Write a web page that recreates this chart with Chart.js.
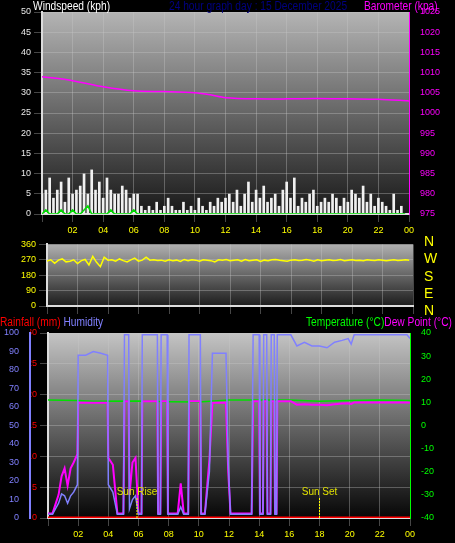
<!DOCTYPE html>
<html>
<head>
<meta charset="utf-8">
<script src="https://cdn.jsdelivr.net/npm/chart.js@4/dist/chart.umd.min.js"></script>
<style>
  body { margin: 0; background: #000; width: 455px; height: 543px; position: relative; overflow: hidden; font-family: "Liberation Sans", Arial, sans-serif; }
  canvas { position: absolute; left: 0; }
  .t { position: absolute; font-family: "Liberation Sans", sans-serif; font-size: 12px; white-space: nowrap; line-height: 12px; transform: scaleX(0.85); transform-origin: left top; }
  .dir { position: absolute; left: 424px; color: #ffff00; font-size: 14px; }
</style>
</head>
<body>
<canvas id="top" width="455" height="240" style="top:0"></canvas>
<canvas id="mid" width="455" height="82" style="top:236px"></canvas>
<canvas id="bot" width="455" height="227" style="top:316px"></canvas>
<div class="t" style="left:33px;top:0;color:#fff">Windspeed (kph)</div>
<div class="t" style="left:169px;top:0;color:#000080">24 hour graph day : 15 December 2025</div>
<div class="t" style="left:364px;top:0;color:#ff00ff">Barometer (kpa)</div>
<div class="dir" style="top:233px">N</div>
<div class="dir" style="top:250px">W</div>
<div class="dir" style="top:268px">S</div>
<div class="dir" style="top:285px">E</div>
<div class="dir" style="top:302px">N</div>
<div class="t" style="left:0;top:316px;color:#ff0000">Rainfall (mm) <span style="color:#8080ff">Humidity</span></div>
<div class="t" style="left:306px;top:316px;color:#00ff00">Temperature (°C)<span style="color:#ff00ff">Dew Point (°C)</span></div>
<script>
// wind, every 15 minutes
const windGust = [5,6,9,4,6,8,3,9,5,6,7,10,5,11,6,8,4,9,6,5,5,7,6,4,5,5,
  2,1,2,1,3,1,2,4,2,1,1,3,1,2,1,4,2,1,3,2,4,3,
  4,5,3,6,2,5,8,3,6,4,7,3,4,5,2,6,8,4,9,2,4,3,5,6,2,3,4,3,5,4,2,4,3,6,5,4,7,3,5,2,4,3,2,1,5,1,2,0];
const windAvg = [0,1,0,0,0,1,0,0,1,0,0,1,2,0,0,0,0,0,1,0,0,0,0,0,1,0,
  0,0,0,0,0,0,0,0,0,0,0,0,0,0,0,0,0,0,0,0,0,0,
  0,0,0,0,0,0,0,0,0,0,0,0,0,0,0,0,0,0,0,0,0,0,0,0,0,0,0,0,0,0,0,0,0,0,0,0,0,0,0,0,0,0,0,0,0,0,0,0];
const windDir = [262,270,250,268,275,258,262,270,248,265,272,240,290,255,230,285,268,270,262,275,
  265,258,270,280,262,268,285,268,270,266,268,262,270,265,268,260,272,265,270,268,
  262,270,268,265,258,270,268,272,265,268,270,262,272,265,268,270,260,268,265,270,
  272,268,265,262,268,270,266,268,272,268,262,270,265,268,270,266,268,272,265,268,
  270,266,268,265,270,268,266,270,268,265,268,270,266,268,270,268];
const baroHours = [0,2,4,6,8,10,11,12,14,16,18,20,22,24];
const baro = [1009,1008,1006.5,1005.5,1005.3,1005,1004.5,1003.8,1003.5,1003.5,1003.6,1003.5,1003.4,1003];

const humHours = [0,0.3,0.5,0.7,0.9,1.1,1.3,1.5,1.7,1.95,2.0,2.5,3.0,3.5,3.95,4.0,4.3,4.6,5.0,5.07,5.35,5.4,5.6,5.8,6.0,6.2,6.25,7.25,7.3,7.45,7.5,7.9,7.95,8.6,8.8,9.0,9.3,9.35,10.1,10.15,10.4,10.7,10.9,11.8,11.95,12.1,13.5,13.6,14.0,14.05,14.25,14.3,14.5,14.55,14.75,14.8,15.0,15.05,15.15,15.2,16.1,16.5,17.0,17.5,18.0,18.5,19.0,19.5,19.9,20.1,20.3,22,23.8,24];
const humidity = [2,2,5,8,13,12,8,12,14,18,88,88,90,89,88,18,14,2,2,99,99,5,10,12,2,2,99,99,2,2,99,99,2,2,6,2,2,99,99,2,2,25,89,89,30,2,2,99,99,2,2,99,99,2,2,99,99,2,2,99,99,93,95,93,93,92,95,96,97,94,99,99,99,97];
const dewPoint = [-38,-38,-34,-30,-22,-18.5,-26,-18.5,-16,-12.4,9.8,9.8,9.8,9.8,9.8,-14,-17,-38,-38,10.5,10.5,-30,-16,-14,-38,-38,10.5,10.5,-38,-38,10.5,10.5,-38,-38,-25,-38,-38,10.5,10.5,-38,-38,-15,9.8,9.8,-20,-38,-38,10.5,10.5,-38,-38,10.5,10.5,-38,-38,10.5,10.5,-38,-38,10.5,10.5,9,9.2,9,9,8.8,9.2,9.5,9.6,9.3,10,10,10,9.8];
const tempHours = [0,2,3,6,8,10,12,16,18,20,22,24];
const temperature = [11,10.8,10.5,10.6,10.3,10.2,11,11,10.5,10.8,11,10.8];
const rainHours = [0,24];
const rainfall = [0,0];
const sunEvents = [[5.9, "Sun Rise"], [18, "Sun Set"]];

const q = i => i * 0.25;
const pts = (xs, ys) => ys.map((y, i) => ({ x: xs[i], y }));
const hourLabel = v => (v === 0 ? "" : String(v % 24).padStart(2, "0"));
const tickFont = { family: "Liberation Sans", size: 9 };
const gridDots = { color: "rgba(200,200,200,0.35)", borderDash: [1, 2] };

function bgPlugin(c1, c2) {
  return {
    id: "bg",
    beforeDraw(chart) {
      const { ctx, chartArea: a } = chart;
      const g = ctx.createLinearGradient(0, a.top, 0, a.bottom);
      g.addColorStop(0, c1);
      g.addColorStop(1, c2);
      ctx.save();
      ctx.fillStyle = g;
      ctx.fillRect(a.left, a.top, a.right - a.left, a.bottom - a.top);
      ctx.restore();
    }
  };
}
const fitW = w => s => { s.width = w; };
const fitH = h => s => { s.height = h; };

const xAxis = (show, h) => ({
  type: "linear", min: 0, max: 24, display: true, offset: false,
  afterFit: fitH(h),
  ticks: { stepSize: 2, color: "#ffff00", font: tickFont, display: show, callback: hourLabel, maxRotation: 0 },
  grid: { ...gridDots, offset: false }, border: { color: "#ddd", width: 2 }
});
const common = {
  responsive: false, animation: false,
  plugins: { legend: { display: false }, tooltip: { enabled: false } },
  elements: { point: { radius: 0 } }
};

new Chart(document.getElementById("top"), {
  type: "bar",
  data: {
    datasets: [
      { type: "line", data: pts(baroHours, baro), yAxisID: "yb", borderColor: "#ff00ff", borderWidth: 1.5, tension: 0.3 },
      { type: "line", data: windAvg.map((v, i) => ({ x: q(i), y: v })), yAxisID: "y", borderColor: "#00e000", borderWidth: 1.5 },
      { data: windGust.map((v, i) => ({ x: q(i), y: v })), yAxisID: "y", backgroundColor: "#f0f0f0", barPercentage: 0.7, categoryPercentage: 1 }
    ]
  },
  plugins: [bgPlugin("#b4b4b4", "#181818")],
  options: {
    ...common,
    layout: { padding: { top: 12 } },
    scales: {
      x: xAxis(true, 26),
      y: { position: "left", min: 0, max: 50, afterFit: fitW(42),
        ticks: { stepSize: 5, color: "#e8e8e8", font: tickFont }, grid: gridDots, border: { color: "#ddd", width: 2 } },
      yb: { position: "right", min: 975, max: 1025, afterFit: fitW(46),
        ticks: { stepSize: 5, color: "#ff00ff", font: tickFont, callback: v => String(v) }, grid: { display: false }, border: { color: "#ff00ff" } }
    }
  }
});

new Chart(document.getElementById("mid"), {
  type: "line",
  data: { datasets: [{ data: windDir.map((v, i) => ({ x: q(i), y: v })), borderColor: "#ffff00", borderWidth: 1.5 }] },
  plugins: [bgPlugin("#b0b0b0", "#1c1c1c")],
  options: {
    ...common,
    layout: { padding: { top: 7 } },
    scales: {
      x: xAxis(false, 12),
      y: { position: "left", min: 0, max: 360, afterFit: fitW(47),
        ticks: { stepSize: 90, color: "#ffff00", font: tickFont }, grid: gridDots, border: { color: "#ddd", width: 2 } },
      yr: { position: "right", display: true, afterFit: fitW(42), ticks: { display: false }, grid: { display: false }, border: { display: false } }
    }
  }
});

const sunPlugin = {
  id: "sun",
  afterDatasetsDraw(chart) {
    const { ctx, scales: { x }, chartArea: a } = chart;
    ctx.save();
    ctx.strokeStyle = "#ffff00";
    ctx.fillStyle = "#e0e000";
    ctx.setLineDash([2, 1]);
    ctx.font = "10px Liberation Sans";
    ctx.textAlign = "center";
    sunEvents.forEach(([h, label]) => {
      const px = x.getPixelForValue(h);
      ctx.beginPath();
      ctx.moveTo(px, a.bottom - 20);
      ctx.lineTo(px, a.bottom);
      ctx.stroke();
      ctx.fillText(label, px, a.bottom - 23);
    });
    ctx.restore();
  }
};

new Chart(document.getElementById("bot"), {
  type: "line",
  data: {
    datasets: [
      { data: pts(humHours, humidity), yAxisID: "yh", borderColor: "#8080ff", borderWidth: 1.5 },
      { data: pts(humHours, dewPoint), yAxisID: "yt", borderColor: "#ff00ff", borderWidth: 2 },
      { data: pts(tempHours, temperature), yAxisID: "yt", borderColor: "#00e000", borderWidth: 1.5 },
      { data: pts(rainHours, rainfall), yAxisID: "yr", borderColor: "#ff0000", borderWidth: 3 }
    ]
  },
  plugins: [bgPlugin("#c4c4c4", "#060606"), sunPlugin],
  options: {
    ...common,
    layout: { padding: { top: 17 } },
    scales: {
      x: xAxis(true, 25),
      yr: { position: "left", min: 0, max: 30, afterFit: fitW(18),
        ticks: { stepSize: 5, color: "#ff0000", font: tickFont }, grid: gridDots, border: { color: "#ddd", width: 2 } },
      yh: { position: "left", min: 0, max: 100, afterFit: fitW(30),
        ticks: { stepSize: 10, color: "#8080ff", font: tickFont }, grid: { display: false }, border: { color: "#8080ff", width: 2 } },
      yt: { position: "right", min: -40, max: 40, afterFit: fitW(45),
        ticks: { stepSize: 10, color: "#00ff00", font: tickFont }, grid: { display: false }, border: { color: "#00ff00" } }
    }
  }
});
</script>
</body>
</html>
